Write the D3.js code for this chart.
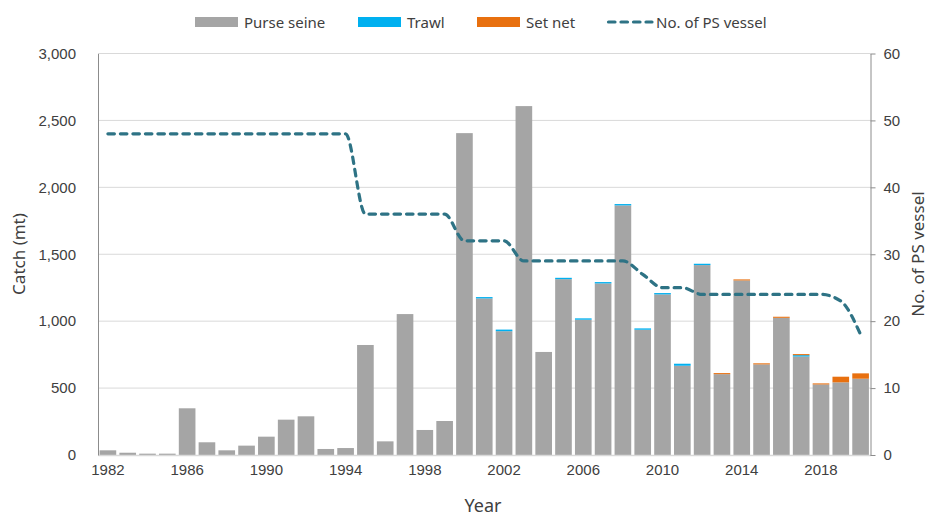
<!DOCTYPE html>
<html>
<head>
<meta charset="utf-8">
<script src="https://cdn.jsdelivr.net/npm/d3@7"></script>
<style>
  body { margin: 0; background: #fff; }
  svg { font-family: "Noto Sans", "Open Sans", sans-serif; }
</style>
</head>
<body>
<div id="plot"></div>
<script>
// Catch by gear (mt) and number of purse seine vessels, 1982-2020
const years = [1982, 1983, 1984, 1985, 1986, 1987, 1988, 1989, 1990, 1991,
  1992, 1993, 1994, 1995, 1996, 1997, 1998, 1999, 2000, 2001,
  2002, 2003, 2004, 2005, 2006, 2007, 2008, 2009, 2010, 2011,
  2012, 2013, 2014, 2015, 2016, 2017, 2018, 2019, 2020];
const purseSeine = [35, 17, 10, 10, 349, 95, 35, 70, 137, 264,
  289, 45, 52, 822, 102, 1053, 187, 254, 2405, 1170,
  925, 2607, 770, 1314, 1011, 1282, 1865, 936, 1200, 667,
  1419, 604, 1304, 677, 1025, 736, 527, 543, 570];
const trawl = [0, 0, 0, 0, 0, 0, 0, 0, 0, 0,
  0, 0, 0, 0, 0, 0, 0, 0, 0, 10,
  12, 0, 0, 10, 10, 10, 10, 10, 10, 15,
  10, 0, 0, 0, 0, 10, 0, 0, 0];
const setNet = [0, 0, 0, 0, 0, 0, 0, 0, 0, 0,
  0, 0, 0, 0, 0, 0, 0, 0, 0, 0,
  0, 0, 0, 0, 0, 0, 0, 0, 0, 0,
  0, 8, 8, 8, 8, 8, 8, 42, 40];
const vessels = [48, 48, 48, 48, 48, 48, 48, 48, 48, 48,
  48, 48, 48, 36, 36, 36, 36, 36, 32, 32,
  32, 29, 29, 29, 29, 29, 29, 27, 25, 25,
  24, 24, 24, 24, 24, 24, 24, 23, 18];
const xTicks = [1982, 1986, 1990, 1994, 1998, 2002, 2006, 2010, 2014, 2018];
const catchTicks = [0, 500, 1000, 1500, 2000, 2500, 3000];
const vesselTicks = [0, 10, 20, 30, 40, 50, 60];

const series = [
  { key: "purse", label: "Purse seine", color: "#A5A5A5" },
  { key: "trawl", label: "Trawl", color: "#00B0F0" },
  { key: "setnet", label: "Set net", color: "#E8700F" }
];
const lineColor = "#2E7385";

const width = 938, height = 518;
const margin = { top: 53.5, right: 67.5, bottom: 63, left: 98 };

const rows = years.map((y, i) => ({
  year: y, purse: purseSeine[i], trawl: trawl[i], setnet: setNet[i], vessels: vessels[i]
}));

const svg = d3.select("#plot").append("svg")
  .attr("width", width)
  .attr("height", height);

const x = d3.scaleBand(years, [margin.left, width - margin.right]).paddingInner(0.16).paddingOuter(0.08);
const y = d3.scaleLinear([0, 3000], [height - margin.bottom, margin.top]);
const y2 = d3.scaleLinear([0, 60], [height - margin.bottom, margin.top]);

// gridlines
svg.append("g")
  .selectAll("line")
  .data(catchTicks.slice(1))
  .join("line")
    .attr("x1", margin.left)
    .attr("x2", width - margin.right)
    .attr("y1", d => y(d))
    .attr("y2", d => y(d))
    .attr("stroke", "#D9D9D9")
    .attr("stroke-width", 1);

// stacked bars
const stacked = d3.stack().keys(series.map(s => s.key))(rows);
svg.append("g")
  .selectAll("g")
  .data(stacked)
  .join("g")
    .attr("fill", (d, i) => series[i].color)
  .selectAll("rect")
  .data(d => d.filter(p => p[1] > p[0]))
  .join("rect")
    .attr("x", d => x(d.data.year))
    .attr("width", x.bandwidth())
    .attr("y", d => y(d[1]))
    .attr("height", d => y(d[0]) - y(d[1]));

// axes
const axisColor = "#8C8C8C";
const textColor = "#404040";

const xG = svg.append("g")
  .attr("transform", `translate(0, ${height - margin.bottom})`)
  .call(d3.axisBottom(x).tickValues(xTicks).tickSize(0).tickPadding(9));
xG.select(".domain").attr("stroke", "#D9D9D9").attr("stroke-width", 1.5);

const yG = svg.append("g")
  .attr("transform", `translate(${margin.left}, 0)`)
  .call(d3.axisLeft(y).tickValues(catchTicks).tickFormat(d3.format(",")).tickSize(0).tickPadding(22));
yG.select(".domain").attr("stroke", axisColor);

const y2G = svg.append("g")
  .attr("transform", `translate(${width - margin.right}, 0)`)
  .call(d3.axisRight(y2).tickValues(vesselTicks).tickSize(5).tickSizeOuter(0).tickPadding(8));
y2G.select(".domain").attr("stroke", axisColor);
y2G.selectAll(".tick line").attr("stroke", axisColor);

svg.selectAll(".tick text")
  .attr("fill", textColor)
  .style("font-size", "15px");

// vessel line
const line = d3.line()
  .x(d => x(d.year) + x.bandwidth() / 2)
  .y(d => y2(d.vessels))
  .curve(d3.curveMonotoneX);
svg.append("path")
  .datum(rows)
  .attr("fill", "none")
  .attr("stroke", lineColor)
  .attr("stroke-width", 3.2)
  .attr("stroke-dasharray", "6.5,6")
  .attr("stroke-linecap", "round")
  .attr("d", line);

// axis titles
svg.append("text")
  .attr("transform", `translate(25, 254) rotate(-90)`)
  .attr("text-anchor", "middle")
  .attr("fill", textColor)
  .style("font-size", "17px")
  .text("Catch (mt)");
svg.append("text")
  .attr("transform", `translate(924, 254) rotate(-90)`)
  .attr("text-anchor", "middle")
  .attr("fill", textColor)
  .style("font-size", "17px")
  .text("No. of PS vessel");
svg.append("text")
  .attr("x", 483)
  .attr("y", 512)
  .attr("text-anchor", "middle")
  .attr("fill", textColor)
  .style("font-size", "18px")
  .text("Year");

// legend
const legend = svg.append("g").attr("transform", "translate(0, 22)");
const legendPos = [195, 358, 477];
series.forEach((s, i) => {
  const g = legend.append("g").attr("transform", `translate(${legendPos[i]}, 0)`);
  g.append("rect").attr("x", 0).attr("y", -5).attr("width", 43).attr("height", 10).attr("fill", s.color);
  g.append("text").attr("x", 49).attr("y", 5.5).attr("fill", textColor)
    .style("font-size", "15px").text(s.label);
});
const lg = legend.append("g").attr("transform", "translate(607, 0)");
lg.append("line").attr("x1", 1.5).attr("x2", 45).attr("y1", 0).attr("y2", 0)
  .attr("stroke", lineColor).attr("stroke-width", 3.2)
  .attr("stroke-dasharray", "6.5,6").attr("stroke-linecap", "round");
lg.append("text").attr("x", 49).attr("y", 5.5).attr("fill", textColor)
  .style("font-size", "15px").text("No. of PS vessel");
</script>
</body>
</html>
